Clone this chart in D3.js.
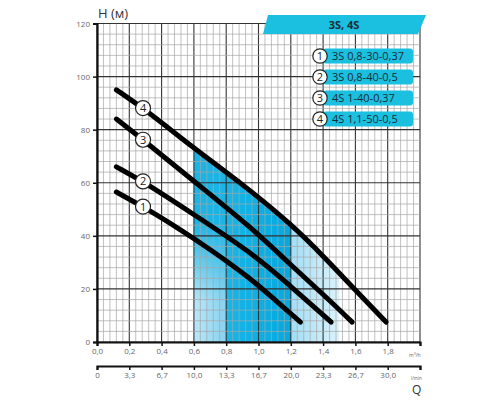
<!DOCTYPE html>
<html>
<head>
<meta charset="utf-8">
<script src="https://cdn.jsdelivr.net/npm/d3@7"></script>
<style>
  body { margin: 0; background: #fff; }
  text { font-family: "Open Sans", "DejaVu Sans", sans-serif; }
</style>
</head>
<body>
<div id="chart"></div>
<script>
// curves: [Q m3/h, H m]
var curve1 = [[0.12, 56.5], [0.3, 50.5], [0.5, 43], [0.7, 35], [0.95, 24], [1.1, 16], [1.26, 7.5]];
var curve2 = [[0.12, 66], [0.3, 60], [0.6, 48], [0.95, 34], [1.2, 21], [1.45, 7.5]];
var curve3 = [[0.12, 84], [0.3, 75.5], [0.6, 60.5], [0.95, 43.5], [1.2, 29], [1.4, 18], [1.58, 7.5]];
var curve4 = [[0.12, 95], [0.3, 87.5], [0.6, 73], [0.8, 64], [0.95, 57], [1.2, 44.5], [1.4, 32.5], [1.6, 19.5], [1.79, 7.5]];
var curves = [curve1, curve2, curve3, curve4];

var legendNames = ["3S 0,8-30-0,37", "3S 0,8-40-0,5", "4S 1-40-0,37", "4S 1,1-50-0,5"];
var title = "3S, 4S";

var xTicks = [0, 0.2, 0.4, 0.6, 0.8, 1.0, 1.2, 1.4, 1.6, 1.8];
var qLabels = ["0", "3,3", "6,7", "10,0", "13,3", "16,7", "20,0", "23,3", "26,7", "30,0"];
var yTicks = [0, 20, 40, 60, 80, 100, 120];

// working zones (x ranges) under curve 4
var zoneLight = [0.6, 1.5];
var zoneDark = [0.8, 1.2];
var zoneFade = [0.6, 0.8];

var width = 500, height = 400;

var svg = d3.select("#chart")
  .append("svg")
    .attr("width", width)
    .attr("height", height);

var x = d3.scaleLinear().domain([0, 2]).range([97, 420]);
var y = d3.scaleLinear().domain([0, 120]).range([342, 23.5]);

var defs = svg.append("defs");

function clipFor(id, r) {
  defs.append("clipPath").attr("id", id)
    .append("rect")
      .attr("x", x(r[0])).attr("width", x(r[1]) - x(r[0]))
      .attr("y", y(120)).attr("height", y(0) - y(120));
}
clipFor("clipLight", zoneLight);
clipFor("clipDark", zoneDark);
clipFor("clipFade", zoneFade);

var gLight = defs.append("linearGradient").attr("id", "gLight")
  .attr("gradientUnits", "userSpaceOnUse")
  .attr("x1", x(0.6)).attr("x2", x(1.5)).attr("y1", 0).attr("y2", 0);
gLight.append("stop").attr("offset", "0").attr("stop-color", "#b9e7f8");
gLight.append("stop").attr("offset", "0.22").attr("stop-color", "#86d3f1");
gLight.append("stop").attr("offset", "0.67").attr("stop-color", "#a3ddf5");
gLight.append("stop").attr("offset", "1").attr("stop-color", "#dcf3fc");

var gDark = defs.append("linearGradient").attr("id", "gDark")
  .attr("gradientUnits", "userSpaceOnUse")
  .attr("x1", x(0.8)).attr("x2", x(1.2)).attr("y1", 0).attr("y2", 0);
gDark.append("stop").attr("offset", "0").attr("stop-color", "#18b6e8");
gDark.append("stop").attr("offset", "1").attr("stop-color", "#02a9e0");

var gFade = defs.append("linearGradient").attr("id", "gFade")
  .attr("gradientUnits", "userSpaceOnUse")
  .attr("x1", 0).attr("x2", 0).attr("y1", y(45)).attr("y2", y(15));
gFade.append("stop").attr("offset", "0").attr("stop-color", "#1ab5e6");
gFade.append("stop").attr("offset", "1").attr("stop-color", "#1ab5e6").attr("stop-opacity", 0);

// zone fills under curve 4
var area = d3.area()
  .x(function(d) { return x(d[0]); })
  .y0(y(0))
  .y1(function(d) { return y(d[1]); })
  .curve(d3.curveBasis);

svg.append("path").datum(curve4).attr("d", area)
  .attr("fill", "url(#gLight)").attr("clip-path", "url(#clipLight)");
svg.append("path").datum(curve4).attr("d", area)
  .attr("fill", "url(#gFade)").attr("clip-path", "url(#clipFade)");
svg.append("path").datum(curve4).attr("d", area)
  .attr("fill", "url(#gDark)").attr("clip-path", "url(#clipDark)");

// grid
var grid = svg.append("g");
grid.selectAll(".vmin").data(d3.range(0, 51)).enter().append("line")
  .attr("x1", function(i) { return x(i * 0.04); })
  .attr("x2", function(i) { return x(i * 0.04); })
  .attr("y1", y(0)).attr("y2", y(120))
  .attr("stroke", function(i) { return i % 5 == 0 ? "#333" : "#a6a6a6"; })
  .attr("stroke-width", function(i) { return i % 5 == 0 ? 1.1 : 0.7; });
grid.selectAll(".hmin").data(d3.range(0, 31)).enter().append("line")
  .attr("y1", function(i) { return y(i * 4); })
  .attr("y2", function(i) { return y(i * 4); })
  .attr("x1", x(0)).attr("x2", x(2))
  .attr("stroke", function(i) { return i % 5 == 0 ? "#333" : "#a6a6a6"; })
  .attr("stroke-width", function(i) { return i % 5 == 0 ? 1.1 : 0.7; });

// curves
var line = d3.line()
  .x(function(d) { return x(d[0]); })
  .y(function(d) { return y(d[1]); })
  .curve(d3.curveBasis);

svg.selectAll(".curve").data(curves).enter().append("path")
  .attr("d", line)
  .attr("fill", "none")
  .attr("stroke", "#000")
  .attr("stroke-width", 5)
  .attr("stroke-linecap", "round");

// number markers on curves
var markX = 0.285;
function valueAt(c, q) {
  for (var i = 1; i < c.length; i++) {
    if (q <= c[i][0]) {
      var t = (q - c[i-1][0]) / (c[i][0] - c[i-1][0]);
      return c[i-1][1] + t * (c[i][1] - c[i-1][1]);
    }
  }
  return c[c.length - 1][1];
}
var marks = svg.selectAll(".mark").data(curves).enter().append("g")
  .attr("transform", function(c) { return "translate(" + x(markX) + "," + y(valueAt(c, markX)) + ")"; });
marks.append("circle").attr("r", 7.5).attr("fill", "#fff").attr("stroke", "#222").attr("stroke-width", 1.2);
marks.append("text").text(function(c, i) { return i + 1; })
  .attr("text-anchor", "middle").attr("dy", "0.36em")
  .attr("font-size", 11).attr("fill", "#222");

// Y axis
var yAxis = svg.append("g")
  .attr("transform", "translate(" + x(0) + ",0)")
  .call(d3.axisLeft(y).tickValues(yTicks).tickSize(4).tickPadding(3));
yAxis.select(".domain").attr("stroke-width", 2.2).attr("stroke", "#111");
yAxis.selectAll(".tick line").attr("stroke-width", 1.5).attr("stroke", "#111");
yAxis.selectAll("text").attr("font-size", 8).attr("fill", "#666")
  .style("font-family", "'Open Sans', sans-serif");

svg.append("text").attr("x", 98).attr("y", 18)
  .attr("font-size", 13).attr("fill", "#333").text("H (м)");

// X axis m3/h
var fmt = function(d) { return d3.format(".1f")(d).replace(".", ","); };
var xAxis = svg.append("g")
  .attr("transform", "translate(0," + y(0) + ")")
  .call(d3.axisBottom(x).tickValues(xTicks.concat([2])).tickSize(4).tickPadding(2)
    .tickFormat(function(d) { return d == 2 ? "" : fmt(d); }));
xAxis.select(".domain").attr("stroke-width", 2.2).attr("stroke", "#111");
xAxis.selectAll(".tick line").attr("stroke-width", 1.5).attr("stroke", "#111");
xAxis.selectAll("text").attr("font-size", 8).attr("fill", "#666")
  .style("font-family", "'Open Sans', sans-serif");

var unit1 = svg.append("text").attr("x", 409).attr("y", 357).attr("font-size", 5).attr("fill", "#666");
unit1.append("tspan").text("m");
unit1.append("tspan").attr("font-size", 3.5).attr("dy", -2).text("3");
unit1.append("tspan").attr("dy", 2).text("/h");

// X axis l/min
var qAxis = svg.append("g")
  .attr("transform", "translate(0,366)")
  .call(d3.axisBottom(x).tickValues(xTicks.concat([2])).tickSize(4).tickPadding(2)
    .tickFormat(function(d, i) { return i < qLabels.length ? qLabels[i] : ""; }));
qAxis.select(".domain").attr("stroke-width", 2.2).attr("stroke", "#111");
qAxis.selectAll(".tick line").attr("stroke-width", 1.5).attr("stroke", "#111");
qAxis.selectAll("text").attr("font-size", 8).attr("fill", "#666")
  .style("font-family", "'Open Sans', sans-serif");

svg.append("text").attr("x", 411).attr("y", 380).attr("font-size", 4.5).attr("fill", "#666").text("l/min");
svg.append("text").attr("x", 412).attr("y", 394).attr("font-size", 12).attr("fill", "#333").text("Q");

// title banner
svg.append("polygon")
  .attr("points", "268,15 426,15 418,34 263,34")
  .attr("fill", "#1bbfdf");
svg.append("text").attr("x", 344).attr("y", 29)
  .attr("text-anchor", "middle").attr("font-size", 11).attr("font-weight", "bold")
  .attr("fill", "#1c2b36").text(title);

// legend
var legend = svg.selectAll(".leg").data(legendNames).enter().append("g")
  .attr("transform", function(d, i) { return "translate(320," + (56 + i * 21) + ")"; });
legend.append("rect")
  .attr("x", 3).attr("y", -7.5).attr("width", 90).attr("height", 15).attr("rx", 3)
  .attr("fill", "#1bbfdf");
legend.append("circle").attr("r", 7.2).attr("fill", "#fff").attr("stroke", "#222").attr("stroke-width", 1.2);
legend.append("text").text(function(d, i) { return i + 1; })
  .attr("text-anchor", "middle").attr("dy", "0.36em")
  .attr("font-size", 11).attr("fill", "#222");
legend.append("text").text(function(d) { return d; })
  .attr("x", 12).attr("dy", "0.36em")
  .attr("font-size", 11).attr("fill", "#1c2b36");
</script>
</body>
</html>
